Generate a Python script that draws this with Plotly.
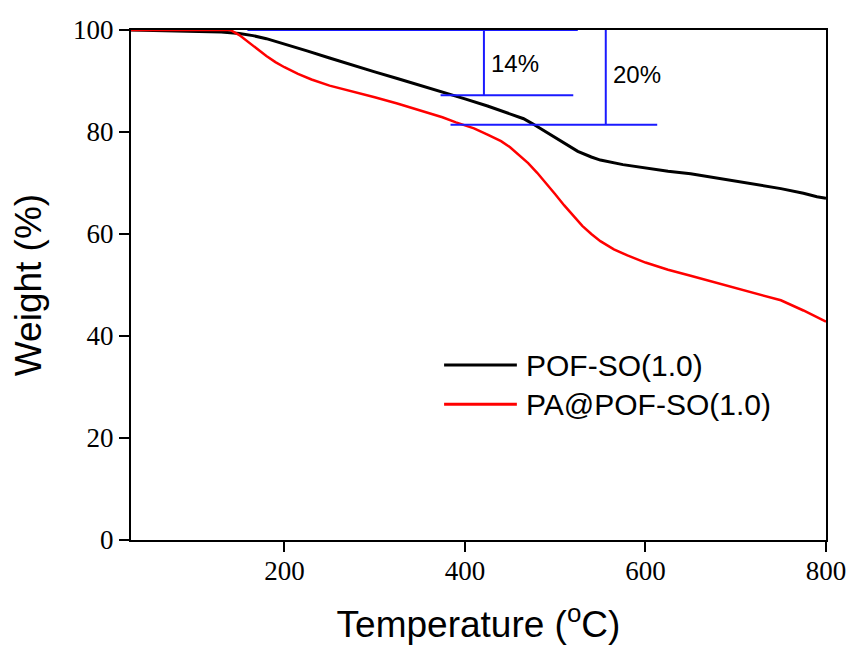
import plotly.graph_objects as go

# TGA curves: temperature (°C) vs residual weight (%)
temp_pof = [30, 60, 100, 130, 150, 165, 180, 200, 225, 250, 275, 300, 325, 350, 373,
            400, 425, 450, 465, 475, 490, 500, 515, 525, 540, 550, 575, 600, 625,
            650, 675, 700, 725, 750, 775, 790, 800]
weight_pof = [100.0, 99.9, 99.8, 99.6, 99.3, 98.9, 98.3, 97.3, 95.9, 94.5, 93.1, 91.8,
              90.5, 89.2, 87.9, 86.5, 85.1, 83.6, 82.6, 81.6, 80.0, 78.8, 77.2, 76.2,
              75.1, 74.5, 73.6, 72.9, 72.3, 71.8, 71.1, 70.4, 69.7, 68.9, 68.0, 67.3, 67.0]

temp_pa = [30, 80, 120, 140, 150, 160, 170, 180, 190, 200, 215, 230, 250, 275, 300,
           325, 350, 375, 390, 410, 425, 440, 450, 460, 470, 480, 490, 500, 510,
           520, 530, 540, 550, 565, 580, 600, 625, 650, 675, 700, 725, 750, 775, 800]
weight_pa = [100.0, 100.0, 100.0, 100.0, 99.0, 97.6, 96.2, 94.9, 93.7, 92.7, 91.4, 90.3,
             89.1, 88.0, 86.8, 85.6, 84.3, 82.9, 81.9, 80.7, 79.5, 78.2, 77.0, 75.5,
             73.9, 72.0, 70.0, 67.8, 65.6, 63.5, 61.6, 60.0, 58.6, 57.0, 55.8, 54.4,
             53.0, 51.8, 50.6, 49.5, 48.3, 47.0, 45.0, 42.8]

series_names = ["POF-SO(1.0)", "PA@POF-SO(1.0)"]
series_colors = ["#000000", "#ff0000"]

# Weight-loss markers (blue brackets)
top_line = dict(x0=159, x1=525, y=100)
loss14 = dict(x=421, y_top=100, y_bot=87.2, h_x0=373, h_x1=520, label="14%",
              label_x=427, label_y=93.4)
loss20 = dict(x=556, y_top=100.5, y_bot=81.4, h_x0=384, h_x1=613, label="20%",
              label_x=562, label_y=91.2)

x_ticks = [200, 400, 600, 800]
y_ticks = [0, 20, 40, 60, 80, 100]

fig = go.Figure()
fig.add_trace(go.Scatter(x=temp_pof, y=weight_pof, mode="lines", name=series_names[0],
                         line=dict(color=series_colors[0], width=3), showlegend=False))
fig.add_trace(go.Scatter(x=temp_pa, y=weight_pa, mode="lines", name=series_names[1],
                         line=dict(color=series_colors[1], width=2.5), showlegend=False))

blue = "#1a1aff"
shapes = [
    dict(type="line", xref="x", yref="y", x0=top_line["x0"], x1=top_line["x1"],
         y0=top_line["y"], y1=top_line["y"], line=dict(color=blue, width=2), layer="above"),
]
annotations = []
for m in (loss14, loss20):
    shapes.append(dict(type="line", xref="x", yref="y", x0=m["x"], x1=m["x"],
                       y0=m["y_top"], y1=m["y_bot"], line=dict(color=blue, width=2),
                       layer="above"))
    shapes.append(dict(type="line", xref="x", yref="y", x0=m["h_x0"], x1=m["h_x1"],
                       y0=m["y_bot"], y1=m["y_bot"], line=dict(color=blue, width=2),
                       layer="above"))
    annotations.append(dict(x=m["label_x"], y=m["label_y"], xref="x", yref="y",
                            text=m["label"], showarrow=False, xanchor="left",
                            yanchor="middle",
                            font=dict(family="Liberation Sans, Arial", size=24,
                                      color="black")))

# Legend drawn as long line samples with labels
legend_rows = [0.343, 0.266]
for name, color, yp in zip(series_names, series_colors, legend_rows):
    shapes.append(dict(type="line", xref="paper", yref="paper", x0=0.4505, x1=0.5552,
                       y0=yp, y1=yp, line=dict(color=color, width=3)))
    annotations.append(dict(x=0.566, y=yp, xref="paper", yref="paper", text=name,
                            showarrow=False, xanchor="left", yanchor="middle",
                            font=dict(family="Liberation Sans, Arial", size=30,
                                      color="black")))

axis_common = dict(showline=True, linecolor="black", linewidth=2, mirror=True,
                   ticks="outside", ticklen=10, tickwidth=2, tickcolor="black",
                   showgrid=False, zeroline=False,
                   tickfont=dict(family="Liberation Serif, Times New Roman", size=27,
                                 color="black"))

fig.update_layout(
    width=858, height=650,
    margin=dict(l=131, r=30, t=30, b=108),
    paper_bgcolor="white", plot_bgcolor="white",
    xaxis=dict(range=[30, 800], tickvals=x_ticks, ticklabelstandoff=-4, **axis_common,
               title=dict(text="Temperature (<sup>o</sup>C)", standoff=26,
                          font=dict(family="Liberation Sans, Arial", size=37,
                                    color="black"))),
    yaxis=dict(range=[0, 100], tickvals=y_ticks, **axis_common,
               title=dict(text="Weight (%)", standoff=20,
                          font=dict(family="Liberation Sans, Arial", size=37,
                                    color="black"))),
    shapes=shapes,
    annotations=annotations,
    showlegend=False,
)

fig.write_html("out.html")
